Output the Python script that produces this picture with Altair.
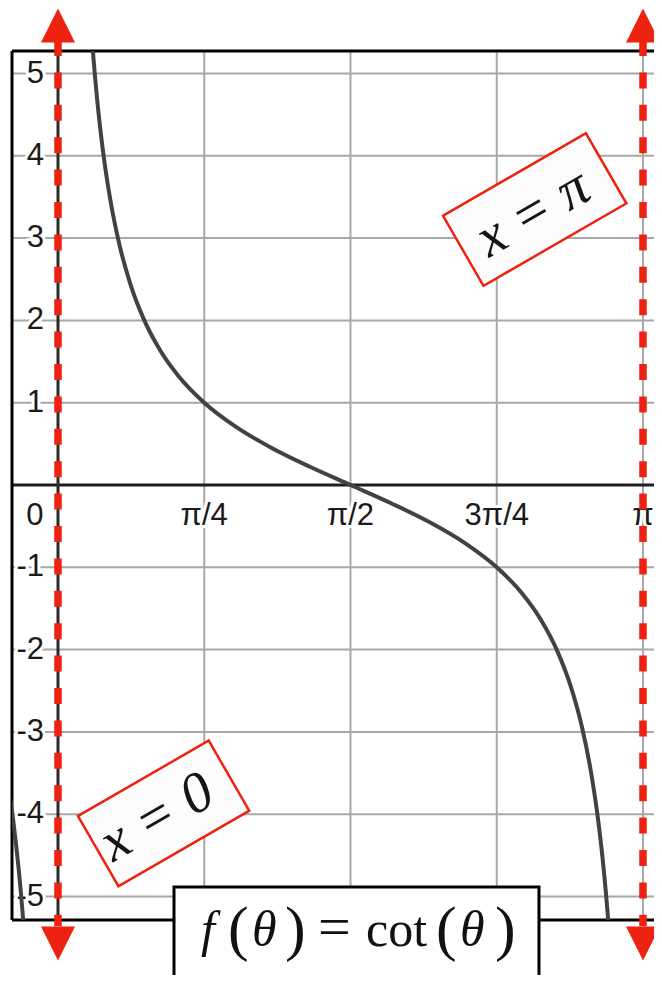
import math
import pandas as pd
import altair as alt

PI = math.pi

# ---- data ----
x_tick_values = [PI / 4, PI / 2, 3 * PI / 4, PI]
x_tick_labels = ["π/4", "π/2", "3π/4", "π"]
origin_label = ["0"]
y_tick_values = [5, 4, 3, 2, 1, -1, -2, -3, -4, -5]
y_tick_labels = ["5", "4", "3", "2", "1", "-1", "-2", "-3", "-4", "-5"]
grid_y = [-5, -4, -3, -2, -1, 1, 2, 3, 4, 5]
grid_x = [PI / 4, PI / 2, 3 * PI / 4, PI]

theta_main = [0.17, 0.19, 0.21, 0.24, 0.28, 0.33, 0.39, 0.46, 0.55, 0.65, 0.785398,
              0.95, 1.15, 1.35, 1.570796, 1.791593, 1.991593, 2.191593, 2.356194,
              2.491593, 2.591593, 2.681593, 2.751593, 2.811593, 2.861593, 2.901593,
              2.931593, 2.951593, 2.971593]
cot_main = [5.8256, 5.1997, 4.6917, 4.0864, 3.4777, 2.9195, 2.4328, 2.0184, 1.6311,
            1.3154, 1.0, 0.7151, 0.4475, 0.2245, 0.0, -0.2245, -0.4475, -0.7151, -1.0,
            -1.3154, -1.6311, -2.0184, -2.4328, -2.9195, -3.4777, -4.0864, -4.6917,
            -5.1997, -5.8256]
theta_left = [-0.26, -0.24, -0.21, -0.19, -0.17]
cot_left = [-3.7591, -4.0864, -4.6917, -5.1997, -5.8256]

asymptotes = [0, PI]
asymptote_labels = ["x = 0", "x = π"]

X_DOMAIN = [-0.2470, 3.2007]
Y_DOMAIN = [-5.2855, 5.2734]

# ---- scales ----
XS = alt.Scale(domain=X_DOMAIN, nice=False, zero=False)
YS = alt.Scale(domain=Y_DOMAIN, nice=False, zero=False)
RED = "#ee2211"


def xf(field):
    return alt.X(field, type="quantitative", scale=XS, axis=None)


def yf(field):
    return alt.Y(field, type="quantitative", scale=YS, axis=None)


def xd(v):
    return alt.XDatum(v, type="quantitative", scale=XS, axis=None)


def yd(v):
    return alt.YDatum(v, type="quantitative", scale=YS, axis=None)


one = pd.DataFrame({"k": [0]})

grid_h = alt.Chart(pd.DataFrame({"v": grid_y})).mark_rule(
    color="#a8a8a8", strokeWidth=2).encode(y=yf("v"))
grid_v = alt.Chart(pd.DataFrame({"v": grid_x})).mark_rule(
    color="#a8a8a8", strokeWidth=2).encode(x=xf("v"))
axis_h = alt.Chart(pd.DataFrame({"v": [0]})).mark_rule(
    color="#1e1e1e", strokeWidth=3).encode(y=yf("v"))
axis_v = alt.Chart(pd.DataFrame({"v": [0]})).mark_rule(
    color="#2a2a2a", strokeWidth=3).encode(x=xf("v"))

frame_h = alt.Chart(pd.DataFrame({"v": [Y_DOMAIN[0], Y_DOMAIN[1]]})).mark_rule(
    color="black", strokeWidth=3).encode(y=yf("v"))
frame_v = alt.Chart(pd.DataFrame({"v": [X_DOMAIN[0]]})).mark_rule(
    color="black", strokeWidth=3).encode(x=xf("v"))

LABEL_FONT = dict(font="Liberation Sans", fontSize=31)

ydf = pd.DataFrame({"v": y_tick_values, "lab": y_tick_labels})
ylab_halo = alt.Chart(ydf).mark_text(
    align="right", baseline="middle", dx=-14, fill="white", stroke="white",
    strokeWidth=6, strokeJoin="round", **LABEL_FONT).encode(
    x=xd(0), y=yf("v"), text="lab:N")
ylab = alt.Chart(ydf).mark_text(
    align="right", baseline="middle", dx=-14, color="#1a1a1a", **LABEL_FONT).encode(
    x=xd(0), y=yf("v"), text="lab:N")

xdf = pd.DataFrame({"v": x_tick_values, "lab": x_tick_labels})
xlab_halo = alt.Chart(xdf).mark_text(
    align="center", baseline="alphabetic", dy=40, fill="white", stroke="white",
    strokeWidth=6, strokeJoin="round", **LABEL_FONT).encode(
    x=xf("v"), y=yd(0), text="lab:N")
xlab = alt.Chart(xdf).mark_text(
    align="center", baseline="alphabetic", dy=40, color="#1a1a1a", **LABEL_FONT).encode(
    x=xf("v"), y=yd(0), text="lab:N")
zero_lab = alt.Chart(pd.DataFrame({"lab": origin_label})).mark_text(
    align="center", baseline="alphabetic", dx=-23, dy=40, color="#1a1a1a",
    **LABEL_FONT).encode(x=xd(0), y=yd(0), text="lab:N")

curve_df = pd.concat([
    pd.DataFrame({"t": theta_left, "c": cot_left, "branch": "left"}),
    pd.DataFrame({"t": theta_main, "c": cot_main, "branch": "main"}),
])
curve = alt.Chart(curve_df).mark_line(
    interpolate="monotone", clip=True, color="#424242", strokeWidth=4).encode(
    x=xf("t"), y=yf("c"), detail="branch:N")

adf = pd.DataFrame({"a": asymptotes})
dashes = alt.Chart(adf).mark_rule(
    color=RED, strokeWidth=7.5, strokeDash=[16, 16.4], strokeCap="butt").encode(
    x=xf("a"), y=yd(5.407), y2=alt.Y2Datum(-5.36))
arrow_up = alt.Chart(adf).mark_point(
    shape="M-1,1L0,-1L1,1Z", size=1156, filled=True, fill=RED, fillOpacity=1,
    opacity=1, strokeWidth=0).encode(x=xf("a"), y=yd(5.583))
arrow_dn = alt.Chart(adf).mark_point(
    shape="M-1,-1L0,1L1,-1Z", size=1156, filled=True, fill=RED, fillOpacity=1,
    opacity=1, strokeWidth=0).encode(x=xf("a"), y=yd(-5.571))

box0 = alt.Chart(one).mark_point(
    shape="M-1,-0.5364L1,-0.5364L1,0.5364L-1,0.5364Z", size=22801, angle=330,
    filled=False, fill="#fcfcfc", fillOpacity=1, stroke=RED, strokeWidth=2.5,
    opacity=1).encode(x=xd(0.567), y=yd(-3.990))
boxpi = alt.Chart(one).mark_point(
    shape="M-1,-0.4909L1,-0.4909L1,0.4909L-1,0.4909Z", size=27225, angle=330,
    filled=False, fill="#fcfcfc", fillOpacity=1, stroke=RED, strokeWidth=2.5,
    opacity=1).encode(x=xd(2.560), y=yd(3.347))
MATH = dict(font="Liberation Serif", fontStyle="italic", fontSize=57, color="#151515")
txt0 = alt.Chart(one).mark_text(
    text=asymptote_labels[0], angle=330, align="center", baseline="middle",
    **MATH).encode(x=xd(0.532), y=yd(-4.040))
txtpi = alt.Chart(one).mark_text(
    text=asymptote_labels[1], angle=330, align="center", baseline="middle",
    **MATH).encode(x=xd(2.551), y=yd(3.305))

fbox = alt.Chart(one).mark_rect(
    fill="white", stroke="black", strokeWidth=3).encode(
    x=xd(0.623), x2=alt.X2Datum(2.583), y=yd(-4.885), y2=alt.Y2Datum(-6.4))

segments = [("f", "italic", 201, 50, 0), ("(", "normal", 228, 62, 3),
            ("θ", "italic", 252, 50, 0), (")", "normal", 285, 62, 3),
            ("=", "normal", 318, 58, 0), ("cot", "normal", 366, 50, 0),
            ("(", "normal", 436, 62, 3), ("θ", "italic", 460, 50, 0),
            (")", "normal", 495, 62, 3)]
ftext = []
for s, style, px, fs, ddy in segments:
    ftext.append(alt.Chart(one).mark_text(
        text=s, font="Liberation Serif", fontStyle=style, fontSize=fs,
        align="left", baseline="alphabetic", dx=px - 58, dy=ddy, color="#111111").encode(
        x=xd(0), y=yd(-5.6)))

chart = alt.layer(
    grid_h, grid_v, axis_h, axis_v, frame_h, frame_v,
    ylab_halo, ylab, xlab_halo, xlab, zero_lab,
    curve, dashes, arrow_up, arrow_dn,
    box0, boxpi, txt0, txtpi, fbox, *ftext
).properties(
    width=642, height=869,
    autosize=alt.AutoSizeParams(type="none"),
    padding={"left": 4, "top": 43, "right": 0, "bottom": 55},
).configure_view(stroke=None)

chart.save("out.html", embed_options={"renderer": "svg", "actions": False})
